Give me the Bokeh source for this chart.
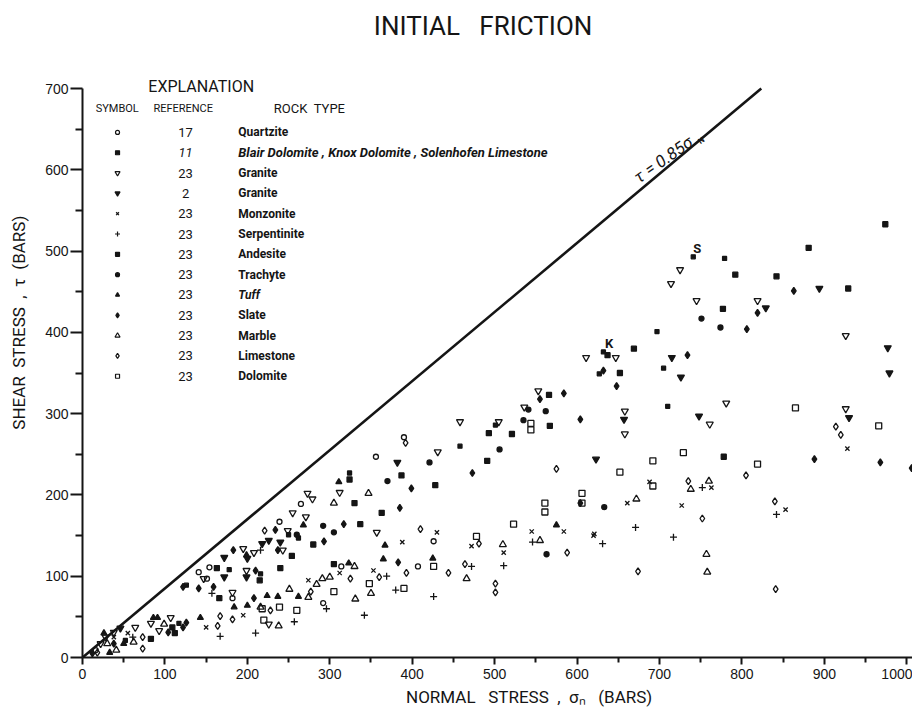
import math
from bokeh.plotting import figure
from bokeh.models import Range1d, Label, FixedTicker
from bokeh.embed import file_html
from bokeh.resources import INLINE

# ---------------- data ----------------
quartzite_x = [16, 141, 151, 154, 182, 239, 265, 292, 314, 356, 390, 407, 426]
quartzite_y = [9, 105, 97, 111, 73, 167, 189, 67, 112, 247, 271, 112, 143]

blair_x = [52, 117, 126, 178, 216, 250, 262, 324, 458, 501, 627, 632, 697, 705, 710, 741, 779]
blair_y = [21, 42, 89, 108, 103, 151, 147, 227, 260, 286, 349, 376, 401, 356, 309, 493, 491]

granite23_x = [22, 28, 38, 64, 83, 93, 107, 147, 182, 195, 199, 208, 226, 243, 249, 255, 271, 273,
               279, 312, 357, 431, 458, 505, 536, 553, 611, 647, 658, 658, 714, 725, 745, 761, 781,
               819, 926, 926]
granite23_y = [17, 25, 31, 37, 42, 33, 49, 97, 80, 134, 107, 129, 41, 132, 156, 178, 173, 202,
               195, 203, 154, 253, 290, 290, 308, 328, 369, 369, 303, 275, 460, 477, 439, 287, 313,
               439, 396, 306]

granite2_x = [46, 172, 172, 199, 200, 218, 226, 240, 382, 623, 657, 715, 726, 748, 829, 894, 930, 977, 979]
granite2_y = [36, 123, 99, 99, 122, 140, 144, 142, 240, 244, 293, 369, 345, 297, 430, 454, 295, 381, 350]

monzonite_x = [38, 55, 150, 195, 274, 312, 353, 388, 430, 472, 511, 545, 584, 620, 621, 661, 688,
               727, 763, 853, 928]
monzonite_y = [25, 30, 37, 52, 95, 104, 107, 142, 154, 137, 129, 155, 155, 150, 152, 190, 216,
               187, 209, 182, 257]

serpentinite_x = [61, 157, 167, 210, 216, 257, 296, 342, 369, 380, 426, 472, 511, 546, 631, 671, 717, 752, 842]
serpentinite_y = [25, 79, 26, 30, 132, 44, 60, 52, 100, 83, 75, 112, 113, 142, 140, 160, 148, 209, 176]

andesite_x = [83, 109, 112, 163, 166, 215, 240, 254, 280, 305, 324, 330, 337, 363, 387, 428, 491,
              493, 521, 566, 567, 637, 652, 669, 777, 778, 792, 842, 881, 929, 974]
andesite_y = [23, 37, 30, 110, 73, 95, 110, 125, 139, 115, 219, 190, 164, 178, 224, 212, 242,
              276, 275, 323, 285, 372, 350, 380, 429, 247, 471, 469, 504, 454, 533]

trachyte_x = [260, 292, 305, 370, 421, 506, 535, 541, 562, 563, 633, 751, 774]
trachyte_y = [151, 162, 154, 217, 240, 256, 292, 305, 303, 127, 185, 417, 406]

tuff_x = [26, 33, 50, 86, 91, 143, 184, 199, 200, 224, 237, 262, 268, 311, 323, 365, 367, 425, 575]
tuff_y = [30, 6, 17, 49, 49, 49, 62, 126, 64, 76, 75, 75, 163, 216, 116, 121, 138, 122, 163]

slate_x = [12, 38, 104, 122, 122, 126, 141, 159, 183, 208, 210, 234, 237, 293, 317, 383, 385, 399,
           473, 555, 584, 604, 604, 632, 648, 734, 806, 819, 863, 888, 968, 1006]
slate_y = [5, 17, 31, 87, 37, 43, 85, 87, 132, 73, 107, 157, 132, 143, 164, 117, 184, 208,
           227, 318, 325, 293, 190, 353, 334, 372, 404, 424, 451, 244, 240, 233]

marble_x = [30, 41, 62, 99, 216, 238, 251, 274, 284, 291, 300, 305, 330, 331, 347, 350, 466, 510,
            555, 672, 738, 757, 758, 760]
marble_y = [17, 9, 19, 41, 62, 39, 84, 74, 90, 97, 99, 190, 112, 72, 202, 79, 97, 139,
            144, 195, 207, 127, 105, 217]

limestone_x = [18, 73, 73, 164, 167, 182, 221, 228, 277, 325, 360, 392, 393, 410, 444, 464, 481,
               501, 501, 575, 588, 674, 735, 752, 805, 840, 841, 914, 920]
limestone_y = [6, 25, 11, 39, 51, 47, 156, 58, 81, 97, 99, 264, 104, 158, 104, 115, 140,
               91, 80, 232, 129, 106, 217, 171, 224, 192, 84, 284, 274]

dolomite_x = [218, 220, 239, 260, 305, 348, 390, 426, 478, 523, 544, 544, 561, 561, 606, 606, 652,
              692, 692, 729, 819, 865, 966]
dolomite_y = [60, 46, 62, 58, 81, 91, 85, 112, 149, 164, 288, 280, 190, 179, 202, 190, 228,
              242, 211, 252, 238, 307, 285]

rock_types = ["Quartzite", "Blair Dolomite , Knox Dolomite , Solenhofen Limestone", "Granite",
              "Granite", "Monzonite", "Serpentinite", "Andesite", "Trachyte", "Tuff", "Slate",
              "Marble", "Limestone", "Dolomite"]
references = ["17", "11", "23", "2", "23", "23", "23", "23", "23", "23", "23", "23", "23"]

friction_coefficient = 0.85
x_ticks = [0, 100, 200, 300, 400, 500, 600, 700, 800, 900, 1000]
x_minor = [50, 150, 250, 350, 450, 550, 650, 750, 850, 950]
y_ticks = [0, 100, 200, 300, 400, 500, 600, 700]
y_minor = [50, 150, 250, 350, 450, 550, 650]

# ---------------- styling ----------------
INK = "#151515"
TXT = "Roboto"
NUM = "Liberation Sans"
NB = "\u00a0"

series = [
    (quartzite_x, quartzite_y, "circle", False, 5),
    (blair_x, blair_y, "square", True, 4),
    (granite23_x, granite23_y, "inverted_triangle", False, 7),
    (granite2_x, granite2_y, "inverted_triangle", True, 7),
    (monzonite_x, monzonite_y, "x", False, 6),
    (serpentinite_x, serpentinite_y, "cross", False, 7),
    (andesite_x, andesite_y, "square", True, 5),
    (trachyte_x, trachyte_y, "circle", True, 5),
    (tuff_x, tuff_y, "triangle", True, 6),
    (slate_x, slate_y, "diamond", True, 7),
    (marble_x, marble_y, "triangle", False, 7),
    (limestone_x, limestone_y, "diamond", False, 7),
    (dolomite_x, dolomite_y, "square", False, 6),
]

# the frame reaches the top of the page; the y axis itself is bounded to 0..700
p = figure(width=912, height=712, x_range=Range1d(0, 1007), y_range=Range1d(0, 808.3),
           output_backend="svg", toolbar_location=None, title=None,
           min_border_left=82, min_border_right=0, min_border_top=0, min_border_bottom=55)
p.grid.visible = False
p.outline_line_color = None
p.background_fill_color = "white"
p.border_fill_color = "white"

xa = p.xaxis[0]
xa.ticker = FixedTicker(ticks=x_ticks, minor_ticks=x_minor)
xa.axis_line_width = 2
xa.axis_line_color = INK
xa.major_tick_in = 0
xa.major_tick_out = 7
xa.minor_tick_in = 0
xa.minor_tick_out = 5
xa.major_tick_line_width = 2
xa.minor_tick_line_width = 2
xa.major_tick_line_color = INK
xa.minor_tick_line_color = INK
xa.major_label_text_font = NUM
xa.major_label_text_font_size = "14px"
xa.major_label_text_color = INK
xa.major_label_standoff = 4
xa.axis_label = (NB * 15 + "NORMAL" + NB * 3 + "STRESS" + NB * 2 + "," + NB * 2 + "σ\u2099"
                 + NB * 3 + "(BARS)")
xa.axis_label_text_font = TXT
xa.axis_label_text_font_size = "17px"
xa.axis_label_text_font_style = "normal"
xa.axis_label_text_color = INK
xa.axis_label_standoff = 5

ya = p.yaxis[0]
ya.bounds = (0, 700)
ya.ticker = FixedTicker(ticks=y_ticks, minor_ticks=y_minor)
ya.axis_line_width = 2
ya.axis_line_color = INK
ya.major_tick_in = 0
ya.major_tick_out = 12
ya.minor_tick_in = 0
ya.minor_tick_out = 7
ya.major_tick_line_width = 2
ya.minor_tick_line_width = 2
ya.major_tick_line_color = INK
ya.minor_tick_line_color = INK
ya.major_label_text_font = NUM
ya.major_label_text_font_size = "14px"
ya.major_label_text_color = INK
ya.major_label_standoff = 2
ya.axis_label = NB * 3 + "SHEAR" + NB * 2 + "STRESS" + NB * 2 + "," + NB * 2 + "τ" + NB * 2 + "(BARS)"
ya.axis_label_text_font = TXT
ya.axis_label_text_font_size = "17px"
ya.axis_label_text_font_style = "normal"
ya.axis_label_text_color = INK
ya.axis_label_standoff = 13

# reference line tau = 0.85 sigma
p.line([0, 700 / friction_coefficient], [0, 700], line_color=INK, line_width=2.6)

for xs, ys, marker, filled, size in series:
    p.scatter(xs, ys, marker=marker, size=size, line_color=INK, line_width=1.3,
              fill_color=INK if filled else None)


def lab(x, y, text, size, font=TXT, style="normal", align="left", baseline="middle", angle=0.0):
    p.add_layout(Label(x=x, y=y, text=text, text_font=font, text_font_size=size,
                       text_font_style=style, text_align=align, text_baseline=baseline,
                       text_color=INK, angle=angle))


# title and heading
lab(486, 777, "INITIAL" + NB * 3 + "FRICTION", "26px", align="center")
lab(144, 703, "EXPLANATION", "16px", align="center")

# line label
ang = math.radians(35)
lab(671, 589, "τ = 0.85σ", "17px", baseline="alphabetic", angle=ang, style="italic")
lab(748, 634, "N", "8px", baseline="alphabetic", angle=ang, style="bold")

# point labels
lab(639, 386, "K", "13px", align="center", style="bold")
lab(746, 503, "S", "13px", align="center", style="bold")

# explanation column headings
lab(16, 675, "SYMBOL", "11px")
lab(86, 675, "REFERENCE", "11px")
lab(232, 675, "ROCK" + NB * 2 + "TYPE", "13px")

row_y0 = 646
row_step = 25
legend_x = [42.5] * len(series)
legend_y = [row_y0 - i * row_step for i in range(len(series))]
for i, (xs, ys, marker, filled, size) in enumerate(series):
    p.scatter([legend_x[i]], [legend_y[i]], marker=marker, size=max(size - 2, 4), line_color=INK,
              line_width=1.2, fill_color=INK if filled else None)
    lab(125, legend_y[i], references[i], "13px", align="center",
        style="italic" if i == 1 else "normal")
    lab(189, legend_y[i], rock_types[i], "13px" if i == 1 else "12px",
        style="bold italic" if i in (1, 8) else "bold")

open("out.html", "w").write(file_html(p, INLINE))
